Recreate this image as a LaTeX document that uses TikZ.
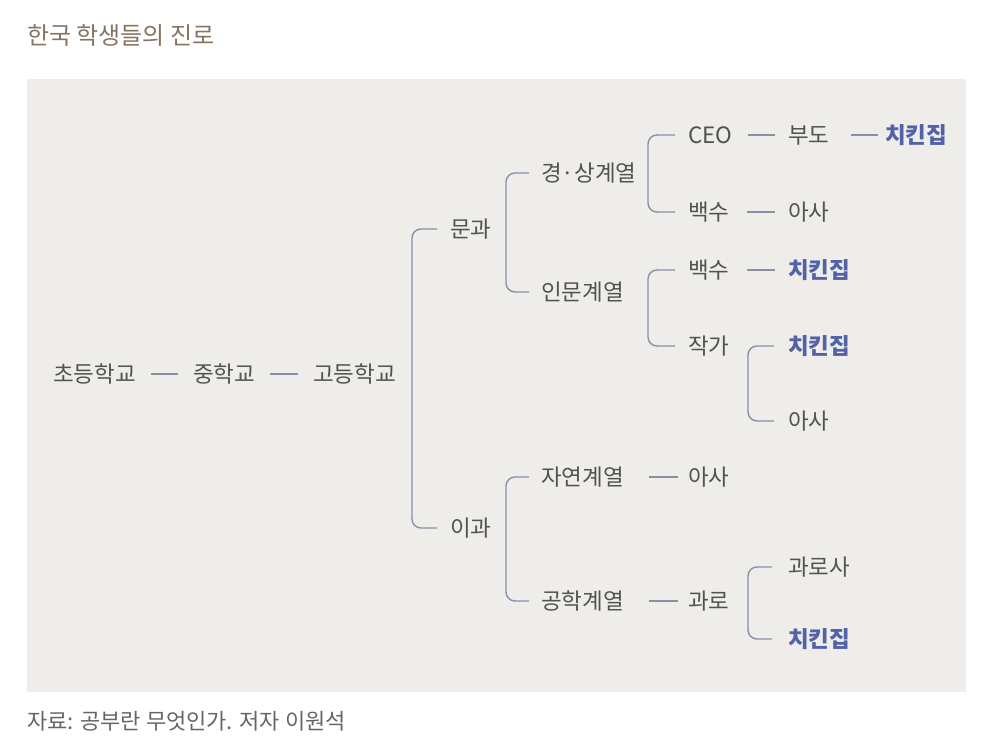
\documentclass[tikz,border=0pt]{standalone}
\usepackage{fontspec}
\newfontfamily\kr{Noto Sans CJK KR}
\definecolor{panel}{HTML}{EEEDE9}
\definecolor{txt}{HTML}{525252}
\definecolor{ln}{HTML}{8A8EA8}
\definecolor{blu}{HTML}{5361A8}
\definecolor{ttl}{HTML}{857560}
\definecolor{foot}{HTML}{666666}
\begin{document}
\begin{tikzpicture}[x=1pt,y=-1pt,
  lbl/.style={anchor=west, inner sep=0pt, outer sep=0pt, text=txt,
    font=\kr\fontsize{22.5}{27}\selectfont, text height=18.2pt, text depth=1.1pt},
  hot/.style={lbl, text=blu, font=\kr\bfseries\fontsize{22.5}{27}\selectfont},
  br/.style={draw=ln, line width=1.4pt, rounded corners=9pt},
  dashline/.style={draw=ln, line width=1.4pt}]
\fill[white] (0,0) rectangle (988,752);
\fill[panel] (27,79) rectangle (966,692);

\node[anchor=west, inner sep=0pt, text=ttl, font=\kr\fontsize{24}{28}\selectfont,
  text height=19.4pt, text depth=1.2pt] (title) at (27,35) {한국 학생들의 진로};
\node[anchor=west, inner sep=0pt, text=foot, font=\kr\fontsize{22}{26}\selectfont,
  text height=17.8pt, text depth=1.1pt] (src) at (27,721) {자료: 공부란 무엇인가. 저자 이원석};

% nodes
\node[lbl] (t1) at (53,374) {초등학교};
\node[lbl] (t2) at (193,374) {중학교};
\node[lbl] (t3) at (313,374) {고등학교};
\node[lbl] (mun) at (450,229) {문과};
\node[lbl] (igwa) at (450,528) {이과};
\node[lbl] (gs) at (541,173) {경·상계열};
\node[lbl] (inmun) at (541,292) {인문계열};
\node[lbl] (ceo) at (688,135) {CEO};
\node[lbl] (budo) at (788,135) {부도};
\node[hot] (chk1) at (885,135) {치킨집};
\node[lbl] (bs1) at (688,212) {백수};
\node[lbl] (asa1) at (788,212) {아사};
\node[lbl] (bs2) at (688,270) {백수};
\node[hot] (chk2) at (788,270) {치킨집};
\node[lbl] (jakga) at (688,346) {작가};
\node[hot] (chk3) at (788,346) {치킨집};
\node[lbl] (asa2) at (788,421) {아사};
\node[lbl] (jayeon) at (541,477) {자연계열};
\node[lbl] (asa3) at (688,477) {아사};
\node[lbl] (gonghak) at (541,601) {공학계열};
\node[lbl] (gwaro) at (688,601) {과로};
\node[lbl] (gwarosa) at (788,567) {과로사};
\node[hot] (chk4) at (788,639) {치킨집};

% bracket spines
\coordinate (s1) at (412,375);
\coordinate (s2) at (506,230);
\coordinate (s3) at (648,170);
\coordinate (s4) at (648,305);
\coordinate (s5) at (748,380);
\coordinate (s6) at (506,540);
\coordinate (s7) at (748,600);

\draw[br] ([xshift=-13pt]mun.west) -| (s1) |- ([xshift=-13pt]igwa.west);
\draw[br] ([xshift=-12pt]gs.west) -| (s2) |- ([xshift=-12pt]inmun.west);
\draw[br] ([xshift=-13pt]ceo.west) -| (s3) |- ([xshift=-13pt]bs1.west);
\draw[br] ([xshift=-13pt]bs2.west) -| (s4) |- ([xshift=-13pt]jakga.west);
\draw[br] ([xshift=-14pt]chk3.west) -| (s5) |- ([xshift=-14pt]asa2.west);
\draw[br] ([xshift=-12pt]jayeon.west) -| (s6) |- ([xshift=-12pt]gonghak.west);
\draw[br] ([xshift=-16pt]gwarosa.west) -| (s7) |- ([xshift=-16pt]chk4.west);

% dashes
\draw[dashline, shorten <=15pt, shorten >=15pt] (t1.east) -- (t2.west);
\draw[dashline, shorten <=15pt, shorten >=15pt] (t2.east) -- (t3.west);
\draw[dashline, shorten <=16pt, shorten >=13pt] (ceo.east) -- (budo.west);
\draw[dashline, shorten <=22pt, shorten >=7pt] (budo.east) -- (chk1.west);
\draw[dashline, shorten <=18pt, shorten >=13pt] (bs1.east) -- (asa1.west);
\draw[dashline, shorten <=18pt, shorten >=13pt] (bs2.east) -- (chk2.west);
\draw[dashline, shorten <=25pt, shorten >=10pt] (jayeon.east) -- (asa3.west);
\draw[dashline, shorten <=25pt, shorten >=10pt] (gonghak.east) -- (gwaro.west);
\end{tikzpicture}
\end{document}
